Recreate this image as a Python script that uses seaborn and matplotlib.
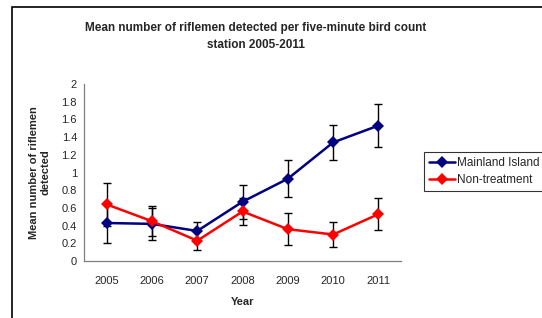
import numpy as np
import pandas as pd
import seaborn as sns
import matplotlib.pyplot as plt
from matplotlib.patches import Rectangle

years = ['2005', '2006', '2007', '2008', '2009', '2010', '2011']
mainland = [0.43, 0.42, 0.34, 0.67, 0.93, 1.34, 1.53]
mainland_err = [0.23, 0.18, 0.10, 0.19, 0.21, 0.20, 0.24]
nontreat = [0.64, 0.45, 0.23, 0.56, 0.36, 0.30, 0.53]
nontreat_err = [0.24, 0.17, 0.11, 0.15, 0.18, 0.14, 0.18]
series_names = ['Mainland Island', 'Non-treatment']
colors = ['#000080', '#FF0000']

df = pd.DataFrame({
    'x': list(range(len(years))) * 2,
    'value': mainland + nontreat,
    'err': mainland_err + nontreat_err,
    'series': [series_names[0]] * len(years) + [series_names[1]] * len(years),
})

sns.set_style('white')
plt.rcParams['font.family'] = ['Liberation Sans', 'DejaVu Sans']

fig = plt.figure(figsize=(5.42, 3.18), dpi=100)
ax = fig.add_axes([0.155, 0.179, 0.585, 0.557])

# error bars first, lines on top
for name in series_names:
    d = df[df['series'] == name]
    ax.errorbar(d['x'], d['value'], yerr=d['err'], fmt='none', ecolor='black',
                elinewidth=1, capsize=3, capthick=1, zorder=2)

sns.lineplot(data=df, x='x', y='value', hue='series', palette=colors,
             marker='D', markersize=6, markeredgewidth=0, linewidth=1.8,
             ax=ax, zorder=3)

ax.set_xlim(-0.5, len(years) - 0.5)
ax.set_ylim(0, 2)
ax.set_yticks(np.arange(0, 2.01, 0.2))
ax.set_yticklabels(['0', '0.2', '0.4', '0.6', '0.8', '1', '1.2', '1.4', '1.6', '1.8', '2'])
ax.set_xticks(np.arange(-0.5, len(years), 1))
ax.set_xticklabels([])
ax.set_xticks(range(len(years)), minor=True)
ax.set_xticklabels(years, minor=True)
ax.tick_params(axis='x', which='major', direction='out', length=3, width=0.8, color='black')
ax.tick_params(axis='x', which='minor', length=0, labelsize=8, pad=11)
ax.tick_params(axis='y', direction='out', length=3, width=0.8, color='black', labelsize=8, pad=2)

for s in ['top', 'right']:
    ax.spines[s].set_visible(False)
for s in ['left', 'bottom']:
    ax.spines[s].set_color('#808080')
    ax.spines[s].set_linewidth(0.9)

ax.set_xlabel('Year', fontsize=8, fontweight='bold', labelpad=8)
ax.set_ylabel('Mean number of riflemen\ndetected', fontsize=8, fontweight='bold', labelpad=8)

fig.text(0.472, 0.886, 'Mean number of riflemen detected per five-minute bird count\nstation 2005-2011',
         ha='center', va='center', fontsize=8.5, fontweight='bold', linespacing=1.5)

leg = ax.legend(loc='upper left', bbox_to_anchor=(1.073, 0.614), frameon=True, fontsize=8.5,
                handlelength=2.2, borderpad=0.4, labelspacing=0.45, handletextpad=0.2,
                fancybox=False, borderaxespad=0)
leg.get_frame().set_edgecolor('black')
leg.get_frame().set_linewidth(0.8)

# chart-area border (cut off at right and bottom like the original)
fig.patches.append(Rectangle((12 / 542, -0.1), 1.2, 1 - 7 / 318 + 0.1, transform=fig.transFigure,
                             fill=False, edgecolor='black', linewidth=1.2))

fig.savefig('out.png', dpi=100)
